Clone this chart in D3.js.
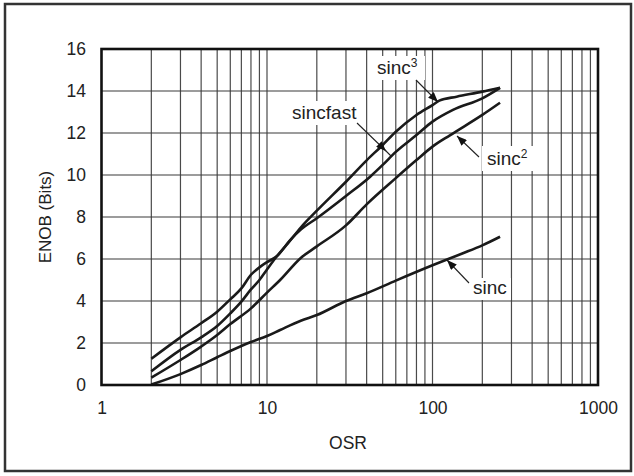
<!DOCTYPE html>
<html>
<head>
<meta charset="utf-8">
<script src="https://cdn.jsdelivr.net/npm/d3@7"></script>
<style>
  body { margin: 0; background: #fff; }
  svg { display: block; font-family: Arial, "Liberation Sans", sans-serif; }
</style>
</head>
<body>
<div id="chart"></div>
<script>
// ENOB vs OSR for the four filter types
var osrSincfast = [2, 3, 4, 5, 6, 7, 8, 9, 10, 11.5, 13.8, 16, 20, 30, 42, 50, 60, 80, 100, 133, 200, 256];
var enobSincfast = [1.25, 2.27, 2.94, 3.49, 4.08, 4.6, 5.25, 5.6, 5.85, 6.14, 6.9, 7.4, 7.94, 9.0, 9.92, 10.48, 11.1, 11.9, 12.54, 13.1, 13.65, 14.15];

var osrSinc3 = [2, 3, 4, 5, 6, 7, 8, 9, 10, 11.5, 13.4, 16, 20, 30, 40, 50, 60, 80, 100, 110, 140, 200, 256];
var enobSinc3 = [0.65, 1.67, 2.27, 2.81, 3.41, 3.97, 4.55, 5.0, 5.5, 6.14, 6.75, 7.5, 8.3, 9.68, 10.7, 11.43, 12.06, 12.86, 13.33, 13.54, 13.73, 13.97, 14.16];

var osrSinc2 = [2, 3, 4, 5, 6, 8, 10, 12, 16, 20, 30, 40, 60, 80, 100, 128, 200, 256];
var enobSinc2 = [0.35, 1.19, 1.83, 2.38, 2.9, 3.65, 4.4, 5.0, 6.05, 6.6, 7.6, 8.6, 9.85, 10.71, 11.35, 11.9, 12.86, 13.44];

var osrSinc = [2, 3, 4, 5, 6, 8, 10, 12, 16, 20, 30, 40, 60, 100, 150, 200, 256];
var enobSinc = [0.02, 0.52, 0.95, 1.32, 1.62, 2.05, 2.33, 2.62, 3.06, 3.33, 4.0, 4.37, 4.97, 5.7, 6.25, 6.65, 7.06];

var xTickValues = [1, 10, 100, 1000];
var yTickValues = [0, 2, 4, 6, 8, 10, 12, 14, 16];

var width = 634, height = 476;
var plotLeft = 101.5, plotRight = 598, plotTop = 49, plotBottom = 385;

var svg = d3.select('#chart')
    .append('svg')
    .attr('width', width)
    .attr('height', height);

// outer frame
svg.append('rect')
    .attr('x', 5).attr('y', 4)
    .attr('width', 626).attr('height', 467)
    .attr('fill', 'none')
    .attr('stroke', '#333')
    .attr('stroke-width', 2.5);

var x = d3.scaleLog().domain([1, 1000]).range([plotLeft, plotRight]);
var y = d3.scaleLinear().domain([0, 16]).range([plotBottom, plotTop]);

// grid
var minor = [];
[1, 10, 100].forEach(function (d) {
    for (var k = 2; k <= 10; k++) minor.push(d * k);
});
minor = minor.filter(function (v) { return v < 1000; });

var grid = svg.append('g');
grid.selectAll('line.v')
    .data(minor)
    .enter().append('line')
    .attr('class', 'v')
    .attr('x1', function (d) { return x(d); })
    .attr('x2', function (d) { return x(d); })
    .attr('y1', plotTop).attr('y2', plotBottom)
    .attr('stroke', '#4a4a4a')
    .attr('stroke-width', 1.2);
grid.selectAll('line.h')
    .data(yTickValues.slice(1, -1))
    .enter().append('line')
    .attr('class', 'h')
    .attr('x1', plotLeft).attr('x2', plotRight)
    .attr('y1', function (d) { return y(d); })
    .attr('y2', function (d) { return y(d); })
    .attr('stroke', '#3a3a3a')
    .attr('stroke-width', 1.2);

// axes
var xAxis = svg.append('g')
    .attr('transform', 'translate(0,' + plotBottom + ')')
    .call(d3.axisBottom(x).tickValues(xTickValues).tickFormat(d3.format('d')).tickSize(0).tickPadding(17));
var yAxis = svg.append('g')
    .attr('transform', 'translate(' + plotLeft + ',0)')
    .call(d3.axisLeft(y).tickValues(yTickValues).tickFormat(d3.format('d')).tickSize(0).tickPadding(15.5));
[xAxis, yAxis].forEach(function (a) {
    a.select('.domain').remove();
    a.selectAll('text')
        .attr('fill', '#222')
        .style('font-size', '17.5px')
        .style('font-family', 'Arial, "Liberation Sans", sans-serif');
});

svg.append('text')
    .attr('x', 348).attr('y', 449)
    .attr('text-anchor', 'middle')
    .attr('fill', '#222')
    .style('font-size', '17.5px')
    .text('OSR');
svg.append('text')
    .attr('transform', 'translate(51,' + ((plotTop + plotBottom) / 2) + ') rotate(-90)')
    .attr('text-anchor', 'middle')
    .attr('fill', '#222')
    .style('font-size', '17px')
    .text('ENOB (Bits)');

// curves
var line = d3.line()
    .x(function (d) { return x(d[0]); })
    .y(function (d) { return y(d[1]); })
    .curve(d3.curveMonotoneX);

var series = [
    [osrSincfast, enobSincfast],
    [osrSinc3, enobSinc3],
    [osrSinc2, enobSinc2],
    [osrSinc, enobSinc]
];
svg.append('g').selectAll('path')
    .data(series)
    .enter().append('path')
    .attr('d', function (s) { return line(d3.zip(s[0], s[1])); })
    .attr('fill', 'none')
    .attr('stroke', '#1a1a1a')
    .attr('stroke-width', 2.6)
    .attr('stroke-linejoin', 'round');

// plot frame
svg.append('rect')
    .attr('x', plotLeft).attr('y', plotTop)
    .attr('width', plotRight - plotLeft).attr('height', plotBottom - plotTop)
    .attr('fill', 'none')
    .attr('stroke', '#111')
    .attr('stroke-width', 2.6);

// annotations
svg.append('defs').append('marker')
    .attr('id', 'arrow')
    .attr('markerUnits', 'userSpaceOnUse')
    .attr('viewBox', '0 0 10 8')
    .attr('refX', 10).attr('refY', 4)
    .attr('markerWidth', 11).attr('markerHeight', 8)
    .attr('orient', 'auto')
    .append('path')
    .attr('d', 'M0,0L10,4L0,8Z')
    .attr('fill', '#111');

function label(tx, ty, main, sup, box) {
    svg.append('rect')
        .attr('x', box[0]).attr('y', box[1])
        .attr('width', box[2]).attr('height', box[3])
        .attr('fill', '#fff');
    var t = svg.append('text')
        .attr('x', tx).attr('y', ty)
        .attr('fill', '#222')
        .style('font-size', '19px')
        .text(main);
    if (sup) {
        t.append('tspan')
            .attr('dy', -7)
            .style('font-size', '12px')
            .text(sup);
    }
}
function arrow(x1, y1, x2, y2, head) {
    svg.append('line')
        .attr('x1', x1).attr('y1', y1)
        .attr('x2', x2).attr('y2', y2)
        .attr('stroke', '#222')
        .attr('stroke-width', 1.1)
        .attr('marker-end', head ? 'url(#arrow)' : null);
}

label(377, 74, 'sinc', '3', [373, 56, 52, 24]);
arrow(416, 80, 438, 102, true);

label(292, 119, 'sincfast', null, [288, 101, 72, 24]);
arrow(357, 123, 386, 151, true);
arrow(385, 150, 391, 156, false);

label(487, 165, 'sinc', '2', [482, 146, 51, 25]);
arrow(479, 157, 457, 136, true);

label(473, 294, 'sinc', null, [469, 278, 42, 22]);
arrow(469, 283, 447, 260, true);
</script>
</body>
</html>
